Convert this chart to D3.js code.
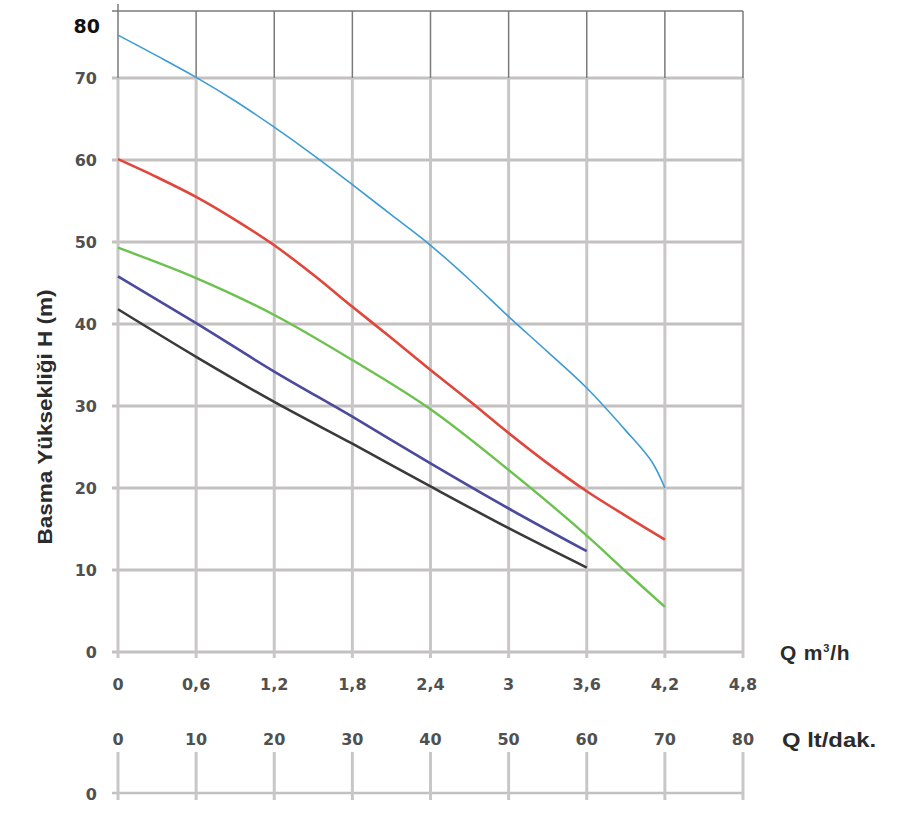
<!DOCTYPE html>
<html>
<head>
<meta charset="utf-8">
<script src="https://cdn.jsdelivr.net/npm/d3@7"></script>
<style>
  body { margin: 0; background: #fff; }
  svg { display: block; }
  .lbl { font-family: "DejaVu Sans", Verdana, sans-serif; font-weight: bold; fill: #505050; }
  .ttl { font-family: "Liberation Sans", Arial, sans-serif; font-weight: bold; fill: #2b2b2b; }
</style>
</head>
<body>
<div id="chart"></div>
<script>
// flow in m3/h, head in m
const qTicks = [0, 0.6, 1.2, 1.8, 2.4, 3, 3.6, 4.2, 4.8];
const qTickLabels = ["0", "0,6", "1,2", "1,8", "2,4", "3", "3,6", "4,2", "4,8"];
const ltTicks = [0, 10, 20, 30, 40, 50, 60, 70, 80];
const hTicks = [0, 10, 20, 30, 40, 50, 60, 70];

const blueQ = [0, 0.3, 0.6, 0.9, 1.2, 1.5, 1.8, 2.1, 2.4, 2.7, 3.0, 3.3, 3.6, 3.9, 4.1, 4.2];
const blueH = [76.4, 73.3, 70.1, 67.2, 64, 60.6, 57, 53.3, 49.6, 45.4, 40.9, 36.6, 32.2, 27, 23.2, 20];
const redQ = [0, 0.3, 0.6, 0.9, 1.2, 1.5, 1.8, 2.1, 2.4, 2.7, 3.0, 3.3, 3.6, 3.9, 4.2];
const redH = [60.1, 57.9, 55.5, 52.7, 49.6, 46, 42.1, 38.3, 34.4, 30.6, 26.7, 23, 19.6, 16.6, 13.7];
const greenQ = [0, 0.6, 1.2, 1.8, 2.4, 3.0, 3.6, 3.9, 4.2];
const greenH = [49.3, 45.6, 41.1, 35.6, 29.6, 22.2, 14.2, 9.8, 5.5];
const purpleQ = [0, 0.6, 1.2, 1.8, 2.4, 3.0, 3.6];
const purpleH = [45.8, 40.1, 34.2, 28.7, 23, 17.5, 12.3];
const blackQ = [0, 0.6, 1.2, 1.8, 2.4, 3.0, 3.6];
const blackH = [41.8, 36, 30.5, 25.4, 20.2, 15.1, 10.3];

const series = [
  {q: blackQ, h: blackH, color: "#3a3a3a", w: 2.6},
  {q: purpleQ, h: purpleH, color: "#4b4a9c", w: 2.6},
  {q: greenQ, h: greenH, color: "#6cc24e", w: 2.4},
  {q: redQ, h: redH, color: "#e0463b", w: 2.6},
  {q: blueQ, h: blueH, color: "#3d9bd5", w: 1.6}
];

const W = 906, H = 817;
const svg = d3.select("#chart").append("svg").attr("width", W).attr("height", H);

const x = d3.scaleLinear().domain([0, 4.8]).range([118, 743]);
const xLt = d3.scaleLinear().domain([0, 80]).range([118, 743]);
// top band (70-80) was drawn a bit shorter in the original
const y = d3.scaleLinear().domain([0, 70, 80]).range([652, 78, 11]);

// light grid (0-70)
const grid = svg.append("g");
grid.selectAll(".hl").data(hTicks).enter().append("line")
  .attr("x1", 112).attr("x2", x(4.8))
  .attr("y1", d => y(d)).attr("y2", d => y(d))
  .attr("stroke", "#c3c0c0").attr("stroke-width", 3);
grid.selectAll(".vl").data(qTicks).enter().append("line")
  .attr("x1", d => x(d)).attr("x2", d => x(d))
  .attr("y1", y(70)).attr("y2", y(0) + 6)
  .attr("stroke", "#c9c6c6").attr("stroke-width", 3);

// dark grid (70-80)
const topGrid = svg.append("g");
topGrid.append("line").attr("x1", 112).attr("x2", x(4.8))
  .attr("y1", y(80)).attr("y2", y(80))
  .attr("stroke", "#7a7a7a").attr("stroke-width", 1.5);
topGrid.selectAll("line.v").data(qTicks).enter().append("line")
  .attr("x1", d => x(d)).attr("x2", d => x(d))
  .attr("y1", (d, i) => i === 0 ? 4 : y(80)).attr("y2", y(70))
  .attr("stroke", "#7a7a7a").attr("stroke-width", 1.5);

// curves
const line = d3.line().curve(d3.curveCatmullRom.alpha(0.5));
svg.append("g").selectAll("path").data(series).enter().append("path")
  .attr("d", s => line(s.q.map((q, i) => [x(q), y(s.h[i])])))
  .attr("fill", "none")
  .attr("stroke", s => s.color)
  .attr("stroke-width", s => s.w);

// y labels
svg.append("g").selectAll("text").data(hTicks).enter().append("text")
  .attr("class", "lbl")
  .attr("x", 97).attr("y", d => y(d))
  .attr("dy", "0.36em")
  .attr("text-anchor", "end")
  .attr("font-size", 16)
  .text(d => d);
svg.append("text")
  .attr("x", 100).attr("y", y(80) + 15)
  .attr("dy", "0.36em")
  .attr("text-anchor", "end")
  .attr("font-family", "'DejaVu Sans', sans-serif")
  .attr("font-weight", "bold")
  .attr("font-size", 19)
  .attr("fill", "#111")
  .text("80");

svg.append("text")
  .attr("class", "ttl")
  .attr("transform", "translate(52,417) rotate(-90)")
  .attr("text-anchor", "middle")
  .attr("font-size", 20)
  .attr("textLength", 255)
  .attr("lengthAdjust", "spacingAndGlyphs")
  .text("Basma Yüksekliği H (m)");

// m3/h labels
svg.append("g").selectAll("text").data(qTicks).enter().append("text")
  .attr("class", "lbl")
  .attr("x", d => x(d)).attr("y", 684)
  .attr("dy", "0.36em")
  .attr("text-anchor", "middle")
  .attr("font-size", 16)
  .text((d, i) => qTickLabels[i]);
svg.append("text").attr("class", "ttl")
  .attr("x", 780).attr("y", 652).attr("dy", "0.36em")
  .attr("font-size", 21)
  .attr("letter-spacing", 0.8)
  .html("Q m<tspan font-size='11' dy='-8'>3</tspan><tspan dy='8'>/h</tspan>");

// lt/dak axis
svg.append("g").selectAll("text").data(ltTicks).enter().append("text")
  .attr("class", "lbl")
  .attr("x", d => xLt(d)).attr("y", 739)
  .attr("dy", "0.36em")
  .attr("text-anchor", "middle")
  .attr("font-size", 16)
  .text(d => d);
svg.append("text").attr("class", "ttl")
  .attr("x", 782).attr("y", 740).attr("dy", "0.36em")
  .attr("font-size", 20)
  .attr("textLength", 94)
  .attr("lengthAdjust", "spacingAndGlyphs")
  .text("Q lt/dak.");

const ax2 = svg.append("g");
ax2.append("line").attr("x1", 112).attr("x2", xLt(80))
  .attr("y1", 793).attr("y2", 793)
  .attr("stroke", "#c3c0c0").attr("stroke-width", 2.5);
ax2.selectAll("line.t").data(ltTicks).enter().append("line")
  .attr("x1", d => xLt(d)).attr("x2", d => xLt(d))
  .attr("y1", 752).attr("y2", 800)
  .attr("stroke", "#c9c6c6").attr("stroke-width", 3);
ax2.append("text").attr("class", "lbl")
  .attr("x", 97).attr("y", 794).attr("dy", "0.36em")
  .attr("text-anchor", "end").attr("font-size", 16)
  .text("0");
</script>
</body>
</html>
